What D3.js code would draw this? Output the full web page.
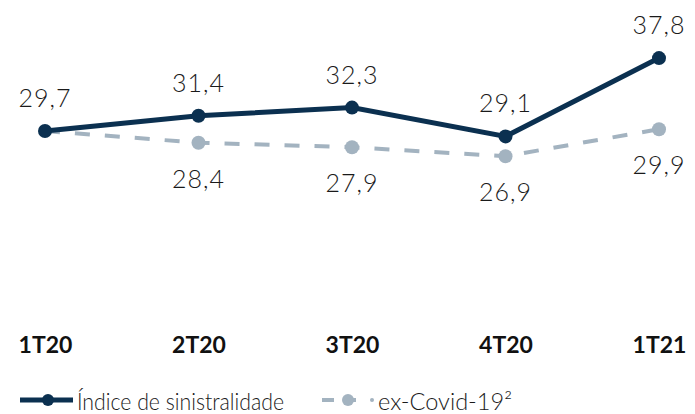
<!DOCTYPE html>
<html><head><meta charset="utf-8">
<script src="https://cdn.jsdelivr.net/npm/d3@7"></script>
<style>body{margin:0;background:#fff}svg{display:block}</style>
</head><body>
<script>
const categories = ["1T20","2T20","3T20","4T20","1T21"];
const sinistralidade = [29.7,31.4,32.3,29.1,37.8];
const exCovid = [29.7,28.4,27.9,26.9,29.9];
const seriesNames = ["Índice de sinistralidade","ex-Covid-19²"];

const W=695,H=414;
const dark="#0b3050", gray="#7d93a6";
const svg=d3.select("body").append("svg").attr("width",W).attr("height",H);
const x=d3.scalePoint().domain(categories).range([45,659]);
const y=d3.scaleLinear().domain([25,40]).range([173.3,38.3]);
const fmt=v=>v.toFixed(1).replace(".",",");
const font="Lato, 'Open Sans', sans-serif";

// gray dashed series
const line=d3.line().x((d,i)=>x(categories[i])).y(d=>y(d));
const g2=svg.append("g").attr("opacity",0.7);
g2.append("path").datum(exCovid).attr("d",line).attr("fill","none")
  .attr("stroke",gray).attr("stroke-width",4).attr("stroke-dasharray","15,15");
g2.selectAll("circle").data(exCovid.slice(1)).join("circle")
  .attr("cx",(d,i)=>x(categories[i+1])).attr("cy",d=>y(d)).attr("r",7).attr("fill",gray);

// dark series
svg.append("path").datum(sinistralidade).attr("d",line).attr("fill","none")
  .attr("stroke",dark).attr("stroke-width",5);
svg.selectAll("circle.d").data(sinistralidade).join("circle").attr("class","d")
  .attr("cx",(d,i)=>x(categories[i])).attr("cy",d=>y(d)).attr("r",7).attr("fill",dark);

// labels
svg.selectAll("text.ld").data(sinistralidade).join("text").attr("class","ld")
  .attr("x",(d,i)=>x(categories[i])).attr("y",d=>y(d)-24)
  .attr("text-anchor","middle").attr("font-family",font).attr("font-weight",300)
  .attr("font-size",25).attr("fill","#1a1a1a").attr("letter-spacing",1).text(fmt);
svg.selectAll("text.lg").data(exCovid.slice(1)).join("text").attr("class","lg")
  .attr("x",(d,i)=>x(categories[i+1])).attr("y",d=>y(d)+45)
  .attr("text-anchor","middle").attr("font-family",font).attr("font-weight",300)
  .attr("font-size",25).attr("fill","#1a1a1a").attr("letter-spacing",1).text(fmt);

// x axis
const ax=svg.append("g").attr("transform","translate(0,353)")
  .call(d3.axisBottom(x).tickSize(0).tickPadding(0));
ax.select(".domain").remove();
ax.selectAll("text").attr("font-family",font).attr("font-weight",700)
  .attr("font-size",23).attr("fill","#111").attr("dy",0).attr("y",0);

// legend
const ly=400;
svg.append("line").attr("x1",20).attr("x2",73).attr("y1",ly).attr("y2",ly)
  .attr("stroke",dark).attr("stroke-width",5);
svg.append("circle").attr("cx",48).attr("cy",ly).attr("r",6).attr("fill",dark);
svg.append("text").attr("x",77).attr("y",410).attr("font-family",font).attr("font-weight",300)
  .attr("font-size",24).attr("fill","#1a1a1a")
  .attr("textLength",207).attr("lengthAdjust","spacingAndGlyphs").text(seriesNames[0]);
const lg=svg.append("g").attr("opacity",0.7);
lg.append("line").attr("x1",322).attr("x2",362).attr("y1",ly).attr("y2",ly)
  .attr("stroke",gray).attr("stroke-width",4).attr("stroke-dasharray","12,10");
lg.append("circle").attr("cx",348).attr("cy",ly).attr("r",6).attr("fill",gray);
lg.append("circle").attr("cx",372).attr("cy",ly).attr("r",2).attr("fill",gray);
svg.append("text").attr("x",378).attr("y",410).attr("font-family",font).attr("font-weight",300)
  .attr("font-size",24).attr("fill","#1a1a1a")
  .attr("textLength",134).attr("lengthAdjust","spacingAndGlyphs").text(seriesNames[1]);
</script>
</body></html>
